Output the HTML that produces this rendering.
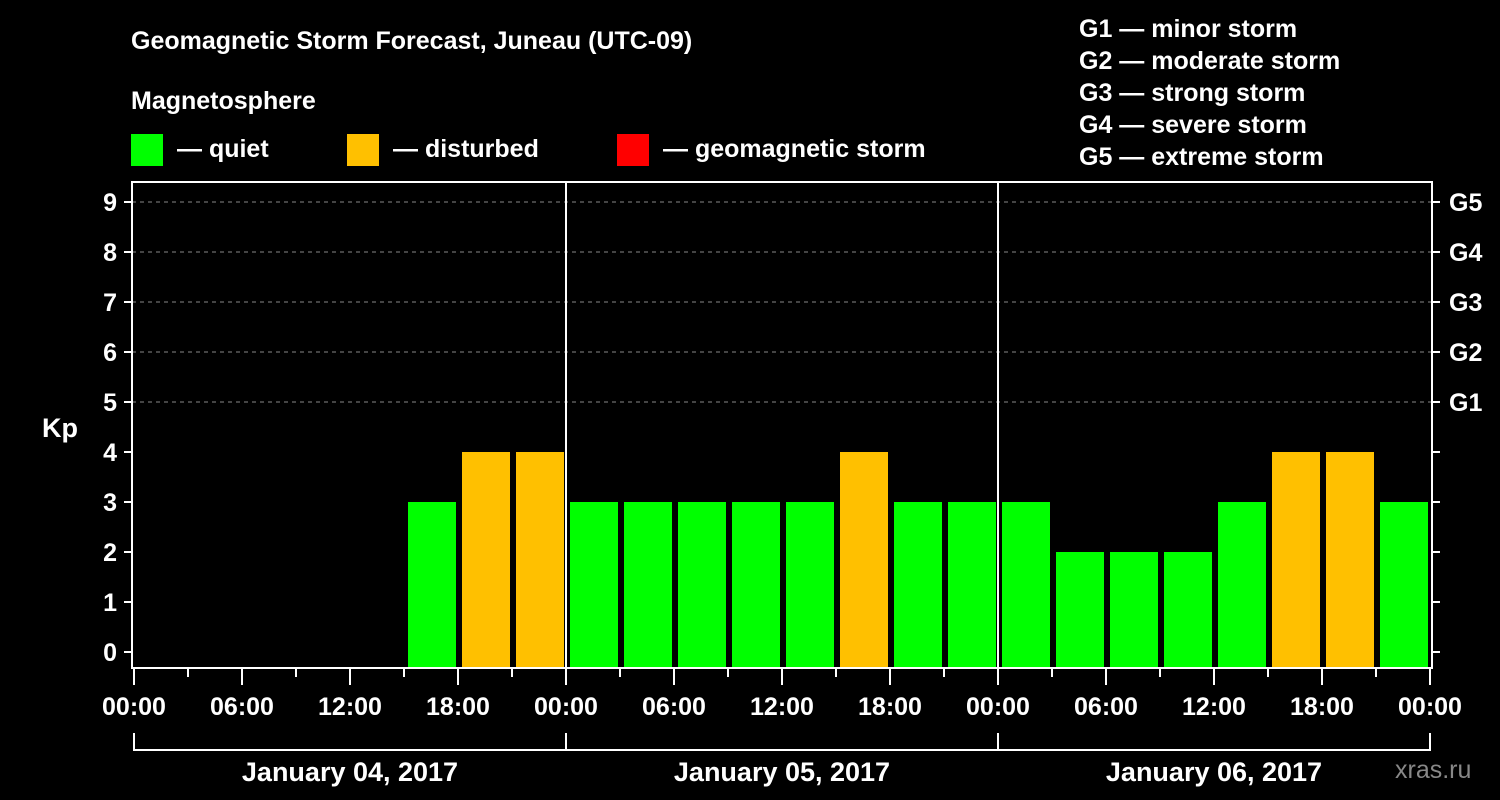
<!DOCTYPE html>
<html><head><meta charset="utf-8"><style>
body{margin:0;background:#000;}
svg{display:block;font-family:"Liberation Sans",Arial,sans-serif;font-weight:bold;}
</style></head><body>
<svg id="chart" width="1500" height="800" viewBox="0 0 1500 800">
<rect width="1500" height="800" fill="#000"/>
<text x="131" y="49" fill="#fff" font-size="25">Geomagnetic Storm Forecast, Juneau (UTC-09)</text>
<text x="131" y="109" fill="#fff" font-size="25">Magnetosphere</text>
<g><rect x="131" y="134" width="32" height="32" fill="#00ff00"/><text x="177" y="157" fill="#fff" font-size="25">— quiet</text></g>
<g><rect x="347" y="134" width="32" height="32" fill="#ffc000"/><text x="393" y="157" fill="#fff" font-size="25">— disturbed</text></g>
<g><rect x="617" y="134" width="32" height="32" fill="#ff0000"/><text x="663" y="157" fill="#fff" font-size="25">— geomagnetic storm</text></g>
<g fill="#fff" font-size="25">
<text x="1079" y="37">G1 — minor storm</text>
<text x="1079" y="69">G2 — moderate storm</text>
<text x="1079" y="101">G3 — strong storm</text>
<text x="1079" y="133">G4 — severe storm</text>
<text x="1079" y="165">G5 — extreme storm</text>
</g>
<text x="42" y="437" fill="#fff" font-size="27">Kp</text>
<text x="1395" y="778" fill="#888" font-size="25" font-weight="normal">xras.ru</text>
<g id="grid"></g><g id="bars"></g><g id="axes"></g>
</svg>
<script>
const days = ["January 04, 2017","January 05, 2017","January 06, 2017"];
const kpValues = [null,null,null,null,null,3,4,4, 3,3,3,3,3,4,3,3, 3,2,2,2,3,4,4,3];
const yTicks = [0,1,2,3,4,5,6,7,8,9];
const gLabels = ["G1","G2","G3","G4","G5"];
const xTickLabels = ["00:00","06:00","12:00","18:00"];

const NS="http://www.w3.org/2000/svg";
const X0=134, PX_H=18, L=132, R=1432, T=182, B=668;
const x = h => X0 + h*PX_H;
const y = v => 652 - v*50;
function mk(tag, attrs, parent, txt){
  const e=document.createElementNS(NS,tag);
  for(const k in attrs) e.setAttribute(k,attrs[k]);
  if(txt!==undefined) e.textContent=txt;
  parent.appendChild(e); return e;
}
const grid=document.getElementById('grid'), bars=document.getElementById('bars'), axes=document.getElementById('axes');
// dashed grid lines for Kp 5-9
for(let v=5; v<=9; v++){
  const l=mk('line',{x1:L,x2:R,y1:y(v),y2:y(v),stroke:'#888','stroke-dasharray':'4,4','stroke-width':1},grid);
  
  
}
// bars
kpValues.forEach((v,i)=>{
  if(v===null) return;
  const col = v>=5 ? '#ff0000' : (v>=4 ? '#ffc000' : '#00ff00');
  const r=mk('rect',{x:x(i*3)+4,y:y(v),width:48,height:B-y(v),fill:col},bars);
  
  
});
// frame
const fr=mk('rect',{x:L,y:T,width:R-L,height:B-T,fill:'none',stroke:'#fff','stroke-width':2},axes);


// day separators
for(let d=1; d<days.length; d++){
  const l=mk('line',{x1:x(d*24),x2:x(d*24),y1:T,y2:B,stroke:'#fff','stroke-width':2},axes);
  
  
}
// y ticks
yTicks.forEach(v=>{
  mk('line',{x1:124,x2:L,y1:y(v),y2:y(v),stroke:'#fff','stroke-width':2},axes);
  const t=mk('text',{x:117,y:y(v)+9,fill:'#fff','font-size':25,'text-anchor':'end'},axes,String(v));
  
  
  mk('line',{x1:R,x2:1440,y1:y(v),y2:y(v),stroke:'#fff','stroke-width':2},axes);
});
gLabels.forEach((g,i)=>{
  const t=mk('text',{x:1449,y:y(5+i)+9,fill:'#fff','font-size':25},axes,g);
  
  
});
// x ticks
for(let h=0; h<=72; h+=3){
  const major = h%6===0;
  mk('line',{x1:x(h),x2:x(h),y1:B,y2:major?685:677,stroke:'#fff','stroke-width':2},axes);
  if(major){
    const t=mk('text',{x:x(h),y:715,fill:'#fff','font-size':25,'text-anchor':'middle'},axes,xTickLabels[(h/6)%4]);
    
    
  }
}
// day brackets
days.forEach((d,i)=>{
  const a=x(i*24), b=x((i+1)*24);
  mk('path',{d:`M${a} 733V750H${b}V733`,stroke:'#fff','stroke-width':2,fill:'none'},axes);
  const t=mk('text',{x:(a+b)/2,y:781,fill:'#fff','font-size':27,'text-anchor':'middle'},axes,d);
  
  
});
</script>
</body></html>
